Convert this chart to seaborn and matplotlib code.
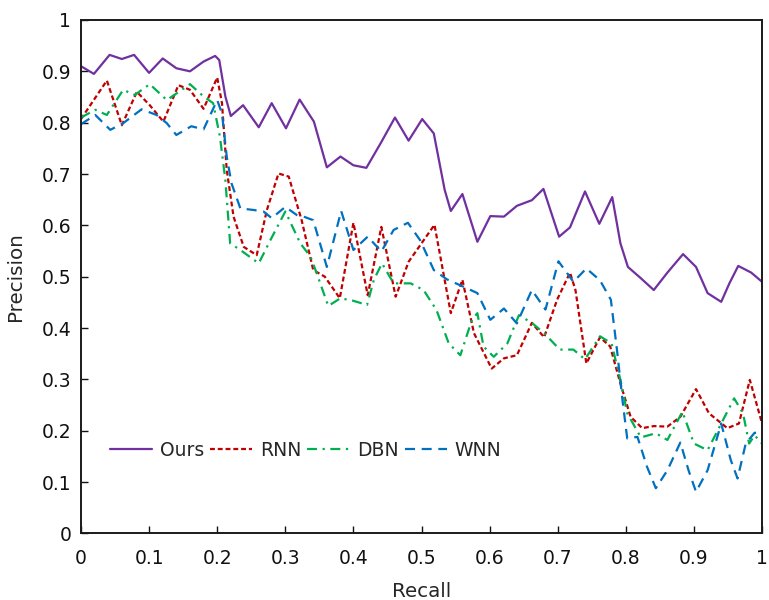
import numpy as np
import pandas as pd
import matplotlib
matplotlib.use("Agg")
import matplotlib.pyplot as plt
import seaborn as sns

series_names = ["Ours", "RNN", "DBN", "WNN"]

ours_x = [0.0, 0.019, 0.042, 0.060, 0.078, 0.100, 0.120, 0.140, 0.160, 0.180, 0.197, 0.203, 0.212, 0.220,
          0.238, 0.261, 0.280, 0.301, 0.321, 0.342, 0.361, 0.381, 0.400, 0.419, 0.440, 0.461, 0.481, 0.501,
          0.518, 0.534, 0.543, 0.560, 0.582, 0.601, 0.621, 0.640, 0.662, 0.679, 0.702, 0.718, 0.740, 0.761,
          0.780, 0.792, 0.803, 0.822, 0.841, 0.861, 0.884, 0.903, 0.920, 0.940, 0.952, 0.965, 0.984, 1.0]
ours_y = [0.910, 0.895, 0.932, 0.924, 0.932, 0.897, 0.925, 0.906, 0.900, 0.919, 0.930, 0.922, 0.851, 0.813,
          0.834, 0.791, 0.838, 0.789, 0.845, 0.802, 0.713, 0.734, 0.717, 0.712, 0.760, 0.810, 0.765, 0.807,
          0.779, 0.669, 0.628, 0.661, 0.568, 0.618, 0.617, 0.638, 0.649, 0.671, 0.578, 0.596, 0.666, 0.603,
          0.655, 0.565, 0.519, 0.497, 0.474, 0.508, 0.544, 0.519, 0.468, 0.451, 0.487, 0.521, 0.508, 0.490]

rnn_x = [0.0, 0.038, 0.060, 0.082, 0.101, 0.121, 0.143, 0.160, 0.180, 0.200, 0.207, 0.214, 0.224, 0.239,
         0.258, 0.273, 0.290, 0.305, 0.324, 0.341, 0.358, 0.380, 0.400, 0.421, 0.441, 0.462, 0.481, 0.519,
         0.543, 0.560, 0.577, 0.603, 0.621, 0.640, 0.662, 0.680, 0.699, 0.718, 0.726, 0.742, 0.762, 0.777,
         0.792, 0.807, 0.824, 0.841, 0.861, 0.880, 0.903, 0.922, 0.949, 0.966, 0.982, 1.0]
rnn_y = [0.807, 0.882, 0.795, 0.860, 0.834, 0.802, 0.873, 0.864, 0.827, 0.888, 0.838, 0.708, 0.617, 0.558,
         0.542, 0.630, 0.701, 0.695, 0.610, 0.513, 0.500, 0.458, 0.605, 0.464, 0.597, 0.461, 0.529, 0.601,
         0.429, 0.494, 0.390, 0.321, 0.341, 0.347, 0.410, 0.382, 0.455, 0.508, 0.474, 0.331, 0.382, 0.364,
         0.292, 0.227, 0.205, 0.209, 0.208, 0.227, 0.281, 0.234, 0.205, 0.214, 0.299, 0.214]

dbn_x = [0.0, 0.021, 0.038, 0.062, 0.079, 0.101, 0.126, 0.160, 0.180, 0.194, 0.204, 0.212, 0.219, 0.234,
         0.261, 0.278, 0.300, 0.322, 0.337, 0.346, 0.363, 0.381, 0.400, 0.420, 0.430, 0.442, 0.459, 0.484,
         0.503, 0.522, 0.540, 0.557, 0.574, 0.582, 0.591, 0.606, 0.626, 0.643, 0.662, 0.680, 0.703, 0.723,
         0.740, 0.762, 0.779, 0.792, 0.802, 0.822, 0.844, 0.861, 0.883, 0.900, 0.920, 0.940, 0.959, 0.972,
         0.981, 0.989, 1.0]
dbn_y = [0.810, 0.825, 0.815, 0.864, 0.854, 0.875, 0.844, 0.875, 0.851, 0.838, 0.773, 0.688, 0.565, 0.552,
         0.526, 0.571, 0.627, 0.565, 0.539, 0.507, 0.443, 0.458, 0.453, 0.445, 0.494, 0.526, 0.487, 0.487,
         0.474, 0.435, 0.370, 0.347, 0.416, 0.429, 0.364, 0.344, 0.370, 0.425, 0.410, 0.390, 0.358, 0.358,
         0.339, 0.384, 0.370, 0.299, 0.234, 0.187, 0.195, 0.182, 0.237, 0.175, 0.162, 0.214, 0.263, 0.234,
         0.175, 0.191, 0.175]

wnn_x = [0.0, 0.021, 0.043, 0.062, 0.089, 0.111, 0.126, 0.140, 0.162, 0.180, 0.200, 0.207, 0.214, 0.221,
         0.234, 0.253, 0.268, 0.280, 0.300, 0.317, 0.327, 0.341, 0.361, 0.382, 0.400, 0.421, 0.441, 0.459,
         0.480, 0.498, 0.518, 0.537, 0.564, 0.582, 0.601, 0.621, 0.640, 0.662, 0.682, 0.701, 0.723, 0.742,
         0.762, 0.778, 0.787, 0.795, 0.802, 0.817, 0.831, 0.844, 0.861, 0.880, 0.892, 0.903, 0.920, 0.940,
         0.954, 0.964, 0.976, 0.989, 1.0]
wnn_y = [0.797, 0.815, 0.786, 0.799, 0.826, 0.815, 0.799, 0.776, 0.793, 0.787, 0.844, 0.818, 0.734, 0.682,
         0.633, 0.630, 0.627, 0.614, 0.636, 0.620, 0.617, 0.610, 0.519, 0.628, 0.552, 0.578, 0.549, 0.591,
         0.605, 0.571, 0.513, 0.495, 0.479, 0.468, 0.416, 0.438, 0.409, 0.474, 0.436, 0.530, 0.490, 0.516,
         0.493, 0.455, 0.357, 0.260, 0.185, 0.188, 0.130, 0.088, 0.123, 0.177, 0.123, 0.081, 0.123, 0.214,
         0.143, 0.107, 0.175, 0.196, 0.195]

x_ticks = [0, 0.1, 0.2, 0.3, 0.4, 0.5, 0.6, 0.7, 0.8, 0.9, 1]
y_ticks = [0, 0.1, 0.2, 0.3, 0.4, 0.5, 0.6, 0.7, 0.8, 0.9, 1]
x_tick_labels = ["0", "0.1", "0.2", "0.3", "0.4", "0.5", "0.6", "0.7", "0.8", "0.9", "1"]
y_tick_labels = ["0", "0.1", "0.2", "0.3", "0.4", "0.5", "0.6", "0.7", "0.8", "0.9", "1"]

frames = []
for name, xs, ys in zip(series_names, [ours_x, rnn_x, dbn_x, wnn_x], [ours_y, rnn_y, dbn_y, wnn_y]):
    frames.append(pd.DataFrame({"Recall": xs, "Precision": ys, "Method": name}))
df = pd.concat(frames, ignore_index=True)

sns.set_style("white")
plt.rcParams['font.family'] = ['DejaVu Sans']

fig = plt.figure(figsize=(7.69, 6.0), dpi=100)
ax = fig.add_axes([0.1053, 0.111, 0.8857, 0.8557])

palette = {"Ours": "#7030A0", "RNN": "#C00000", "DBN": "#00B050", "WNN": "#0070C0"}
dashes = {"Ours": None, "RNN": (2.2, 1.3), "DBN": (4.5, 2.5, 1.0, 2.5), "WNN": (4.5, 3.0)}

for name in series_names:
    sub = df[df["Method"] == name]
    sns.lineplot(data=sub, x="Recall", y="Precision", sort=False, estimator=None,
                 color=palette[name], linewidth=1.6, ax=ax, label=name)
for line, name in zip(ax.get_lines(), series_names):
    line.set_solid_joinstyle("round")
    line.set_dash_joinstyle("round")
    if dashes[name]:
        line.set_dashes(dashes[name])

ax.set_xlim(0, 1)
ax.set_ylim(0, 1)
ax.set_xticks(x_ticks)
ax.set_xticklabels(x_tick_labels)
ax.set_yticks(y_ticks)
ax.set_yticklabels(y_tick_labels)
ax.tick_params(direction="in", length=5, width=1.0, labelsize=13.5, colors="#111111",
               bottom=True, left=True)
ax.tick_params(axis="x", pad=11)
ax.tick_params(axis="y", pad=7)
for s in ax.spines.values():
    s.set_visible(True)
    s.set_color("#1a1a1a")
    s.set_linewidth(1.4)
ax.set_xlabel("Recall", fontsize=14.3, labelpad=10)
ax.set_ylabel("Precision", fontsize=14.3, labelpad=12)

ax.legend(loc="center left", bbox_to_anchor=(0.032, 0.162), frameon=False, ncol=4,
          fontsize=13.5, handlelength=2.25, handletextpad=0.4, columnspacing=0.32,
          borderaxespad=0)

fig.savefig("out.png", dpi=100)
